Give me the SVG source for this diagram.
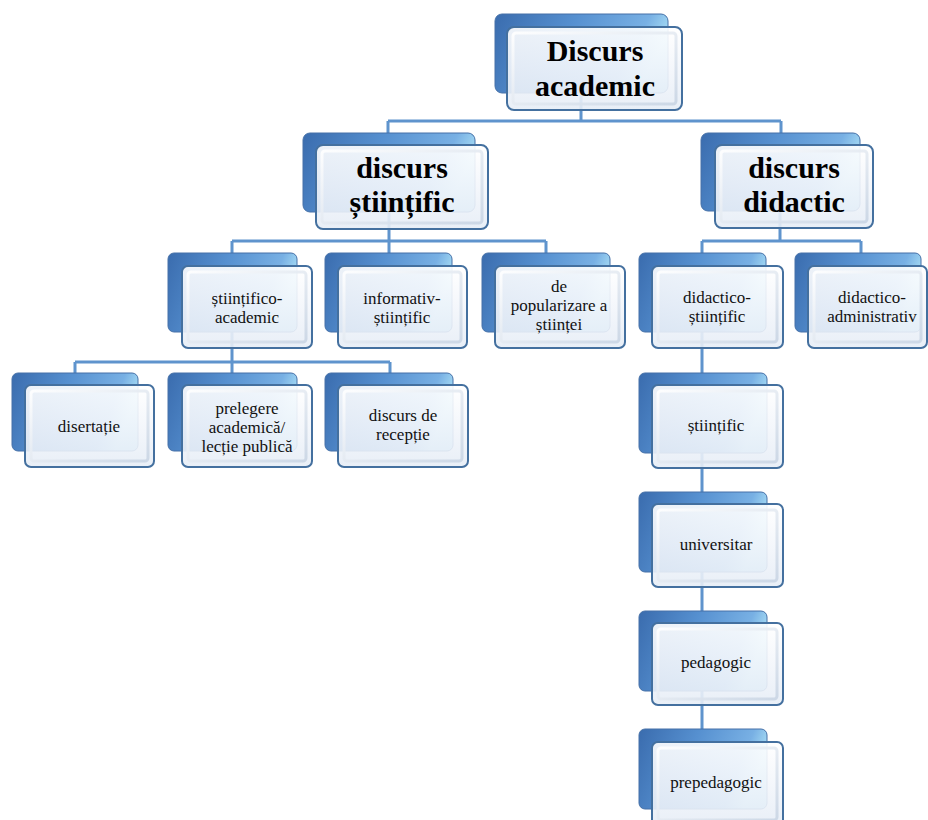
<svg xmlns="http://www.w3.org/2000/svg" width="928" height="820" viewBox="0 0 928 820">
<defs>
<linearGradient id="gBack" x1="0" y1="0" x2="1" y2="0.25">
<stop offset="0" stop-color="#3a6cae"/>
<stop offset="0.45" stop-color="#5690d0"/>
<stop offset="0.85" stop-color="#78b0e4"/>
<stop offset="1" stop-color="#a6dcf4"/>
</linearGradient>
<linearGradient id="gFront" x1="0" y1="0" x2="0" y2="1">
<stop offset="0" stop-color="#ffffff"/>
<stop offset="0.5" stop-color="#f3f6fb"/>
<stop offset="1" stop-color="#e6edf6"/>
</linearGradient>
<linearGradient id="gBevel" x1="0" y1="0" x2="1" y2="1">
<stop offset="0" stop-color="#ffffff" stop-opacity="0.9"/>
<stop offset="1" stop-color="#c9d5e4" stop-opacity="0.9"/>
</linearGradient>
</defs>
<style>
.conn{fill:none;stroke:#5f94cd;stroke-width:3}
.back{fill:url(#gBack);stroke:#4671a8;stroke-width:1}
.front{fill:url(#gFront);fill-opacity:0.9;stroke:#44709f;stroke-width:2}
.bevel{fill:none;stroke:url(#gBevel);stroke-width:3}
.big{font-family:"Liberation Serif","Times New Roman",serif;font-size:30px;font-weight:bold;fill:#000;text-anchor:middle}
.sm{font-family:"Liberation Serif","Times New Roman",serif;font-size:17px;fill:#111;text-anchor:middle}
</style>
<rect width="928" height="820" fill="#ffffff"/>

<g id="connectors">
<path class="conn" d="M581 80 V121 M388 121 H781 M388 121 V133 M781 121 V133"/>
<path class="conn" d="M389 200 V241 M232 241 H546 M232 241 V253 M389 241 V253 M546 241 V253"/>
<path class="conn" d="M780 200 V241 M702 241 H861 M702 241 V253 M861 241 V253"/>
<path class="conn" d="M232 320 V362 M75 362 H390 M75 362 V373 M232 362 V373 M390 362 V373"/>
<path class="conn" d="M702 320 V740"/>
</g>

<g id="n-discurs-academic">
<rect class="back" x="495" y="14" width="173" height="79" rx="7"/>
<rect class="front" x="507" y="27" width="175" height="83" rx="7"/>
<rect class="bevel" x="513" y="33" width="163" height="71" rx="3"/>
<text class="big" x="595" y="61">Discurs</text>
<text class="big" x="595" y="96">academic</text>
</g>

<g id="n-discurs-stiintific">
<rect class="back" x="303" y="133" width="172" height="79" rx="7"/>
<rect class="front" x="316" y="145" width="172" height="84" rx="7"/>
<rect class="bevel" x="322" y="151" width="160" height="72" rx="3"/>
<text class="big" x="402" y="178">discurs</text>
<text class="big" x="402" y="212">științific</text>
</g>

<g id="n-discurs-didactic">
<rect class="back" x="701" y="133" width="159" height="78" rx="7"/>
<rect class="front" x="715" y="145" width="158" height="83" rx="7"/>
<rect class="bevel" x="721" y="151" width="146" height="71" rx="3"/>
<text class="big" x="794" y="178">discurs</text>
<text class="big" x="794" y="212">didactic</text>
</g>

<g id="n-stiintifico-academic">
<rect class="back" x="168" y="253" width="129" height="79" rx="6"/>
<rect class="front" x="182" y="266" width="130" height="82" rx="6"/>
<rect class="bevel" x="188" y="272" width="118" height="70" rx="3"/>
<text class="sm" x="247" y="304">științifico-</text>
<text class="sm" x="247" y="323">academic</text>
</g>

<g id="n-informativ-stiintific">
<rect class="back" x="325" y="253" width="127" height="79" rx="6"/>
<rect class="front" x="338" y="266" width="129" height="82" rx="6"/>
<rect class="bevel" x="344" y="272" width="117" height="70" rx="3"/>
<text class="sm" x="402" y="304">informativ-</text>
<text class="sm" x="402" y="323">științific</text>
</g>

<g id="n-de-popularizare">
<rect class="back" x="482" y="253" width="128" height="79" rx="6"/>
<rect class="front" x="495" y="266" width="130" height="82" rx="6"/>
<rect class="bevel" x="501" y="272" width="118" height="70" rx="3"/>
<text class="sm" x="559" y="292">de</text>
<text class="sm" x="559" y="311">popularizare a</text>
<text class="sm" x="559" y="330">științei</text>
</g>

<g id="n-didactico-stiintific">
<rect class="back" x="639" y="253" width="127" height="79" rx="6"/>
<rect class="front" x="652" y="266" width="131" height="82" rx="6"/>
<rect class="bevel" x="658" y="272" width="119" height="70" rx="3"/>
<text class="sm" x="717" y="303">didactico-</text>
<text class="sm" x="717" y="322">științific</text>
</g>

<g id="n-didactico-administrativ">
<rect class="back" x="795" y="253" width="126" height="79" rx="6"/>
<rect class="front" x="808" y="266" width="119" height="82" rx="6"/>
<rect class="bevel" x="814" y="272" width="107" height="70" rx="3"/>
<text class="sm" x="872" y="303">didactico-</text>
<text class="sm" x="872" y="322">administrativ</text>
</g>

<g id="n-disertatie">
<rect class="back" x="12" y="373" width="126" height="78" rx="6"/>
<rect class="front" x="25" y="385" width="129" height="82" rx="6"/>
<rect class="bevel" x="31" y="391" width="117" height="70" rx="3"/>
<text class="sm" x="89" y="432">disertație</text>
</g>

<g id="n-prelegere">
<rect class="back" x="168" y="373" width="129" height="78" rx="6"/>
<rect class="front" x="182" y="385" width="130" height="82" rx="6"/>
<rect class="bevel" x="188" y="391" width="118" height="70" rx="3"/>
<text class="sm" x="247" y="414">prelegere</text>
<text class="sm" x="247" y="433">academică/</text>
<text class="sm" x="247" y="452">lecție publică</text>
</g>

<g id="n-discurs-de-receptie">
<rect class="back" x="325" y="373" width="128" height="78" rx="6"/>
<rect class="front" x="338" y="385" width="130" height="82" rx="6"/>
<rect class="bevel" x="344" y="391" width="118" height="70" rx="3"/>
<text class="sm" x="403" y="421">discurs de</text>
<text class="sm" x="403" y="440">recepție</text>
</g>

<g id="n-stiintific">
<rect class="back" x="639" y="373" width="128" height="80" rx="6"/>
<rect class="front" x="652" y="385" width="131" height="83" rx="6"/>
<rect class="bevel" x="658" y="391" width="119" height="71" rx="3"/>
<text class="sm" x="716" y="431">științific</text>
</g>

<g id="n-universitar">
<rect class="back" x="639" y="492" width="128" height="80" rx="6"/>
<rect class="front" x="652" y="504" width="131" height="83" rx="6"/>
<rect class="bevel" x="658" y="510" width="119" height="71" rx="3"/>
<text class="sm" x="716" y="550">universitar</text>
</g>

<g id="n-pedagogic">
<rect class="back" x="639" y="611" width="128" height="80" rx="6"/>
<rect class="front" x="652" y="623" width="131" height="82" rx="6"/>
<rect class="bevel" x="658" y="629" width="119" height="70" rx="3"/>
<text class="sm" x="716" y="668">pedagogic</text>
</g>

<g id="n-prepedagogic">
<rect class="back" x="639" y="729" width="128" height="80" rx="6"/>
<rect class="front" x="652" y="742" width="131" height="84" rx="6"/>
<rect class="bevel" x="658" y="748" width="119" height="72" rx="3"/>
<text class="sm" x="716" y="788">prepedagogic</text>
</g>
</svg>
